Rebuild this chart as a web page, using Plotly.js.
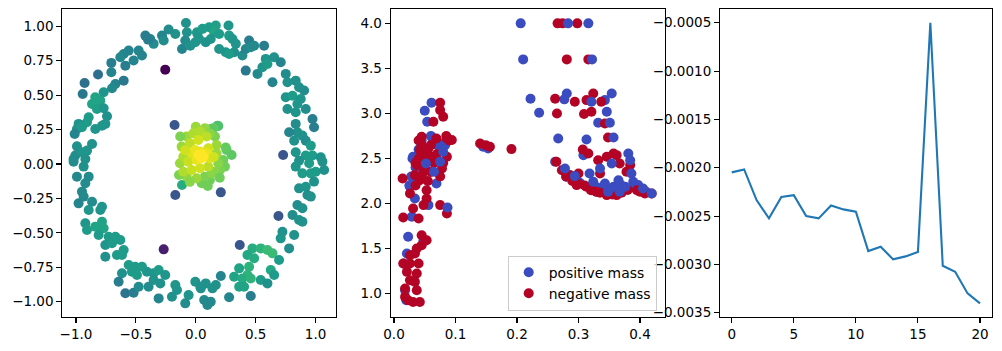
<!DOCTYPE html>
<html>
<head>
<meta charset="utf-8">
<script src="https://cdn.plot.ly/plotly-3.0.1.min.js"></script>
<style>html,body{margin:0;padding:0;background:#fff;}#chart{width:1002px;height:351px;}</style>
</head>
<body>
<div id="chart"></div>
<script>
// ---------- Panel 1: ring + core, viridis coloured ----------
const ringX = [-0.082,-0.074,-0.088,-0.115,-0.046,-0.004,0.010,-0.171,-0.227,-0.282,-0.268,-0.352,-0.380,-0.421,-0.399,-0.477,-0.449,-0.519,-0.560,-0.602,-0.630,-0.588,-0.705,-0.705,-0.816,-0.928,-0.944,-0.671,-0.699,-0.602,-0.769,-0.839,-0.866,-0.797,-0.825,-0.769,-0.741,-0.755,-0.783,-0.894,-0.908,-0.978,-0.992,-1.011,-0.950,-0.839,-0.992,-1.006,-0.950,-0.908,-0.866,-1.020,-0.922,
0.014,0.056,0.111,0.167,0.153,0.195,0.125,0.083,0.028,0.273,0.278,0.306,0.334,0.320,0.195,0.250,0.278,0.389,0.417,0.445,0.459,0.487,0.570,0.417,0.515,0.556,0.584,0.598,0.654,0.709,0.640,0.751,0.765,0.834,0.862,0.904,0.751,0.807,0.876,0.765,0.848,0.834,0.918,0.974,0.987,0.834,0.848,0.779,0.890,0.821,0.918,0.960,0.834,0.918,0.974,1.043,0.862,
-1.020,-0.936,-0.992,-0.894,-0.922,-0.950,-0.936,-0.978,-0.866,-0.894,-0.783,-0.797,-0.922,-0.908,-0.839,-0.783,-0.769,-0.811,-0.727,-0.671,-0.630,-0.755,-0.699,-0.602,-0.616,-0.658,-0.755,-0.560,-0.505,-0.449,-0.533,-0.491,-0.408,-0.352,-0.310,-0.255,-0.616,-0.644,-0.588,-0.519,-0.477,-0.394,-0.352,-0.296,-0.310,-0.199,-0.171,-0.157,-0.088,-0.060,-0.004,0.038,
0.834,0.946,1.057,0.890,0.960,1.001,1.071,0.987,0.862,0.918,0.848,0.890,0.932,0.960,0.807,0.862,0.890,0.723,0.709,0.821,0.779,0.473,0.542,0.598,0.640,0.695,0.431,0.487,0.445,0.431,0.362,0.320,0.389,0.459,0.542,0.626,0.654,0.598,0.362,0.403,0.209,0.167,0.139,0.083,0.042,0.070,0.125,0.097,0.278,0.459];
const ringY = [1.024,0.956,0.896,0.835,0.859,0.884,0.956,0.944,0.976,0.932,0.896,0.872,0.908,0.932,0.903,0.823,0.787,0.751,0.823,0.799,0.775,0.714,0.734,0.666,0.649,0.588,0.508,0.581,0.550,0.605,0.521,0.484,0.436,0.460,0.399,0.404,0.346,0.291,0.278,0.339,0.303,0.291,0.254,0.218,0.266,0.254,0.128,0.061,0.085,0.097,0.145,0.036,0.036,
0.944,0.981,0.993,1.005,0.956,0.944,0.908,0.884,0.908,1.005,0.932,0.908,0.872,0.811,0.835,0.811,0.799,0.787,0.835,0.896,0.847,0.859,0.859,0.678,0.654,0.702,0.763,0.726,0.775,0.738,0.593,0.654,0.593,0.605,0.557,0.533,0.484,0.496,0.472,0.399,0.436,0.375,0.399,0.327,0.266,0.291,0.230,0.230,0.206,0.169,0.169,0.133,0.085,0.061,0.061,0.048,0.024,
0.017,-0.019,-0.092,-0.092,-0.140,-0.201,-0.237,-0.286,-0.274,-0.334,-0.310,-0.334,-0.431,-0.479,-0.455,-0.419,-0.467,-0.516,-0.528,-0.528,-0.552,-0.588,-0.576,-0.625,-0.661,-0.661,-0.673,-0.734,-0.746,-0.746,-0.782,-0.806,-0.782,-0.794,-0.770,-0.806,-0.794,-0.855,-0.939,-0.935,-0.891,-0.891,-0.843,-0.867,-0.976,-0.964,-0.879,-0.915,-1.012,-0.952,-0.855,-0.891,
-0.019,0.005,0.017,-0.068,-0.068,-0.056,-0.044,-0.128,-0.177,-0.165,-0.298,-0.322,-0.225,-0.237,-0.370,-0.407,-0.419,-0.492,-0.540,-0.516,-0.613,-0.613,-0.613,-0.625,-0.649,-0.697,-0.661,-0.685,-0.746,-0.806,-0.758,-0.819,-0.831,-0.831,-0.843,-0.770,-0.806,-0.867,-0.891,-0.891,-0.814,-0.879,-0.903,-0.867,-0.903,-0.988,-1.000,-1.024,-0.968,-0.959];
const ringC = [0.50,0.50,0.48,0.45,0.50,0.52,0.55,0.50,0.48,0.45,0.48,0.48,0.45,0.42,0.42,0.45,0.45,0.45,0.45,0.45,0.47,0.42,0.42,0.45,0.36,0.37,0.40,0.45,0.47,0.40,0.52,0.58,0.58,0.58,0.56,0.52,0.50,0.52,0.52,0.55,0.55,0.50,0.50,0.45,0.55,0.52,0.50,0.48,0.52,0.52,0.50,0.48,0.50,
0.52,0.55,0.55,0.57,0.58,0.55,0.52,0.50,0.52,0.52,0.55,0.52,0.52,0.50,0.52,0.52,0.55,0.48,0.45,0.42,0.48,0.47,0.42,0.40,0.47,0.52,0.52,0.55,0.50,0.45,0.45,0.48,0.50,0.50,0.50,0.48,0.52,0.55,0.52,0.50,0.52,0.52,0.48,0.42,0.42,0.48,0.50,0.45,0.50,0.50,0.48,0.55,0.52,0.55,0.55,0.50,0.50,
0.48,0.50,0.47,0.48,0.48,0.47,0.47,0.45,0.48,0.52,0.52,0.52,0.52,0.55,0.58,0.58,0.58,0.55,0.55,0.55,0.55,0.52,0.55,0.55,0.55,0.55,0.50,0.55,0.55,0.55,0.55,0.55,0.52,0.52,0.55,0.52,0.50,0.42,0.38,0.42,0.48,0.48,0.50,0.50,0.45,0.50,0.52,0.52,0.48,0.52,0.52,0.50,
0.52,0.55,0.50,0.55,0.55,0.55,0.50,0.50,0.50,0.52,0.48,0.50,0.48,0.50,0.48,0.50,0.50,0.50,0.52,0.50,0.48,0.62,0.65,0.68,0.68,0.55,0.60,0.62,0.65,0.65,0.58,0.58,0.62,0.65,0.55,0.60,0.55,0.50,0.58,0.58,0.45,0.50,0.50,0.50,0.50,0.47,0.47,0.47,0.45,0.42];

const outX = [-0.255,-0.177,-0.268,-0.171,0.729,0.690,0.209,0.367];
const outY = [0.685,0.283,-0.620,-0.225,0.065,-0.378,-0.206,-0.588];
const outC = [0.00,0.27,0.08,0.27,0.27,0.27,0.27,0.27];

const coreX = [-0.115,0.181,0.188,0.146,0.257,0.299,0.243,0.229,0.049,0.118,0.076,-0.076,0.160,0.125,0.202,0.132,0.188,0.160,0.174,0.174,0.076,-0.118,-0.076,0.007,-0.132,-0.13,-0.14,0.25,0.20,0.10,-0.05,0.0,0.12,-0.104,-0.021,0.035,0.090,-0.104,0.104,-0.049,-0.063,-0.035,0.035,0.021,0.104,0.118,-0.035,0.035,0.090,0.007,-0.007,0.021,0.049,0.063,0.05,-0.09,0.15];
const coreY = [-0.153,0.278,0.276,0.259,0.102,0.065,-0.019,0.029,-0.140,-0.116,-0.092,-0.092,0.199,0.254,-0.044,-0.068,0.005,-0.056,0.138,0.077,0.259,0.126,0.199,-0.104,0.005,0.20,-0.08,0.12,-0.10,-0.16,-0.13,0.27,0.22,0.053,0.223,0.235,0.199,-0.056,-0.019,0.150,0.017,-0.044,-0.031,0.174,0.114,0.041,0.077,0.090,0.077,0.029,0.102,0.065,0.041,0.053,0.07,0.10,0.05];
const coreC = [0.62,0.68,0.72,0.76,0.75,0.75,0.78,0.78,0.78,0.78,0.80,0.84,0.80,0.75,0.80,0.82,0.82,0.82,0.85,0.85,0.84,0.85,0.85,0.85,0.85,0.80,0.80,0.76,0.78,0.78,0.82,0.85,0.82,0.88,0.88,0.88,0.90,0.88,0.90,0.90,0.92,0.92,0.93,0.93,0.93,0.95,0.95,0.97,0.97,0.97,0.97,1.00,1.00,1.00,1.00,0.93,0.93];

// ---------- Panel 2: positive / negative mass ----------
const posX = [0.206,0.210,0.222,0.236,0.281,0.277,0.343,0.346,0.332,0.267,0.313,0.308,0.262,0.318,0.389,0.397,0.329,0.302,0.280,0.145,0.153,
0.061,0.050,0.054,0.061,0.031,0.080,0.083,0.037,0.026,0.034,0.056,0.029,0.023,0.048,0.021,0.016,0.018,0.020,0.069,
0.040,0.030,0.045,0.035,0.060,0.070,0.028,0.025,0.33,0.345,0.36,0.37,0.39,0.41];
const posY = [4.0,3.6,3.163,3.007,3.222,3.156,3.148,3.019,2.896,2.722,2.711,2.537,2.463,2.333,2.241,2.204,2.130,2.230,2.296,2.630,2.611,
3.119,3.030,2.907,2.741,2.519,2.667,2.648,2.259,2.185,2.056,1.982,1.852,1.630,1.593,1.444,1.333,1.037,0.926,2.222,
2.60,2.50,2.70,2.40,2.75,2.65,2.30,2.20,2.18,2.17,2.12,2.20,2.18,2.13];
const negX = [0.266,0.274,0.298,0.281,0.316,0.262,0.265,0.294,0.309,0.321,0.313,0.324,0.337,0.343,0.348,0.307,0.316,0.264,0.273,0.286,0.300,0.313,0.329,0.346,0.362,0.332,0.346,0.357,0.362,0.367,0.378,0.384,0.395,0.408,0.419,0.335,0.297,0.321,0.140,0.149,0.156,0.191,
0.075,0.075,0.080,0.064,0.045,0.069,0.086,0.094,0.042,0.056,0.048,0.061,0.037,0.048,0.078,0.086,0.014,0.034,0.042,0.026,0.053,0.053,0.048,0.031,0.075,0.086,0.015,0.040,0.045,0.053,0.037,0.045,0.026,0.034,0.015,0.026,0.040,0.021,0.037,0.026,0.034,0.018,0.037,0.018,0.031,0.023,0.042,
0.040,0.045,0.050,0.055,0.040,0.035,0.050,0.060,0.045,0.035,0.055,0.065,0.070,0.060,0.075,0.080,0.085,0.090,
0.28,0.29,0.30,0.31,0.32,0.335,0.355,0.37,0.38,0.40];
const negY = [4.0,4.0,4.0,3.6,3.6,3.163,3.0,3.13,2.993,3.019,3.148,3.222,3.130,2.889,2.733,2.6,2.556,2.463,2.370,2.315,2.333,2.185,2.130,2.093,2.093,2.481,2.519,2.556,2.537,2.444,2.352,2.426,2.148,2.111,2.111,2.333,2.204,2.148,2.667,2.648,2.630,2.604,
3.119,3.037,2.963,2.907,2.741,2.722,2.722,2.704,2.593,2.611,2.519,2.519,2.426,2.352,2.389,2.519,2.278,2.315,2.259,2.111,2.148,2.056,1.982,1.944,1.982,1.889,1.844,1.833,1.648,1.593,1.500,1.537,1.426,1.444,1.333,1.333,1.333,1.241,1.222,1.148,1.130,1.056,1.037,0.963,0.907,0.926,0.907,
2.70,2.65,2.60,2.55,2.50,2.45,2.40,2.35,2.30,2.20,2.25,2.45,2.55,2.65,2.30,2.45,2.75,2.70,
2.30,2.25,2.22,2.20,2.15,2.12,2.10,2.12,2.15,2.13];
const posTopX = [0.052,0.065,0.075,0.087,0.080,0.343,0.348,0.367,0.376,0.357,0.365,0.419,0.405,0.386,0.384,0.381,0.354,0.357,0.351,0.322,0.283,0.316,0.278,0.294,0.335,0.324,0.354,0.321];
const posTopY = [2.444,2.352,2.463,1.956,2.574,2.222,2.130,2.130,2.185,2.185,2.259,2.111,2.167,2.333,2.481,2.556,2.444,2.733,2.896,3.6,4.0,4.0,2.389,2.304,2.389,2.241,3.222,3.13];

// ---------- Panel 3: line ----------
const lineX = [0,1,2,3,4,5,6,7,8,9,10,11,12,13,14,15,16,17,18,19,20];
const lineY = [-0.002048,-0.002017,-0.002334,-0.002524,-0.002303,-0.002283,-0.0025,-0.002524,-0.00239,-0.002431,-0.002455,-0.002862,-0.002817,-0.002948,-0.002917,-0.002872,-0.0005,-0.003014,-0.003076,-0.0033,-0.003403];

const BLUE = '#3b4cc0', RED = '#b40426';
const FONT = {family: 'DejaVu Sans, sans-serif', size: 13.5, color: '#000'};
const MS = 10;

function vir(x, y, c) {
  return {type: 'scatter', mode: 'markers', x: x, y: y, xaxis: 'x', yaxis: 'y', showlegend: false, hoverinfo: 'skip',
    marker: {size: MS, color: c, colorscale: 'Viridis', cmin: 0, cmax: 1, showscale: false, line: {width: 0}}};
}
function pts(x, y, col, name, show, ax) {
  return {type: 'scatter', mode: 'markers', x: x, y: y, xaxis: ax[0], yaxis: ax[1], name: name, showlegend: show,
    marker: {size: MS, color: col, line: {width: 0}}};
}

const data = [
  vir(ringX, ringY, ringC),
  vir(outX, outY, outC),
  vir(coreX, coreY, coreC),
  pts(posX, posY, BLUE, 'positive mass', true, ['x2','y2']),
  pts(negX, negY, RED, 'negative mass', true, ['x2','y2']),
  pts(posTopX, posTopY, BLUE, 'positive mass', false, ['x2','y2']),
  {type: 'scatter', mode: 'lines', x: lineX, y: lineY, xaxis: 'x3', yaxis: 'y3', showlegend: false,
   line: {color: '#1f77b4', width: 2.1}}
];

function ax(extra) {
  return Object.assign({showline: true, mirror: true, linecolor: '#000', linewidth: 1.1,
    ticks: 'outside', ticklen: 5, tickwidth: 1.1, tickcolor: '#000', showgrid: false, zeroline: false,
    tickfont: FONT, automargin: false}, extra);
}
const yDom = [0.0969, 0.9735];
const layout = {
  width: 1002, height: 351,
  margin: {l: 0, r: 0, t: 0, b: 0},
  paper_bgcolor: '#fff', plot_bgcolor: '#fff',
  font: FONT,
  xaxis: ax({domain: [0.0622, 0.3353], range: [-1.114, 1.17], dtick: 0.5, tick0: 0, tickformat: '.1f', anchor: 'y'}),
  yaxis: ax({domain: yDom, range: [-1.111, 1.123], dtick: 0.25, tick0: 0, tickformat: '.2f', anchor: 'x'}),
  xaxis2: ax({domain: [0.3899, 0.6637], range: [-0.0054, 0.4407], dtick: 0.1, tick0: 0, tickformat: '.1f', anchor: 'y2'}),
  yaxis2: ax({domain: yDom, range: [0.74, 4.156], dtick: 0.5, tick0: 0, tickformat: '.1f', anchor: 'x2'}),
  xaxis3: ax({domain: [0.7186, 0.9903], range: [-0.942, 20.99], dtick: 5, tick0: 0, anchor: 'y3'}),
  yaxis3: ax({domain: yDom, range: [-0.003544, -0.000361], dtick: 0.0005, tick0: 0, tickformat: '.4f', anchor: 'x3'}),
  legend: {x: 0.6554, y: 0.1148, xanchor: 'right', yanchor: 'bottom', bgcolor: 'rgba(255,255,255,0.8)',
    bordercolor: '#cccccc', borderwidth: 1, font: {family: 'DejaVu Sans, sans-serif', size: 13.9, color: '#000'},
    tracegroupgap: 0, itemwidth: 30}
};
Plotly.newPlot('chart', data, layout, {staticPlot: true, displayModeBar: false});
</script>
</body>
</html>
